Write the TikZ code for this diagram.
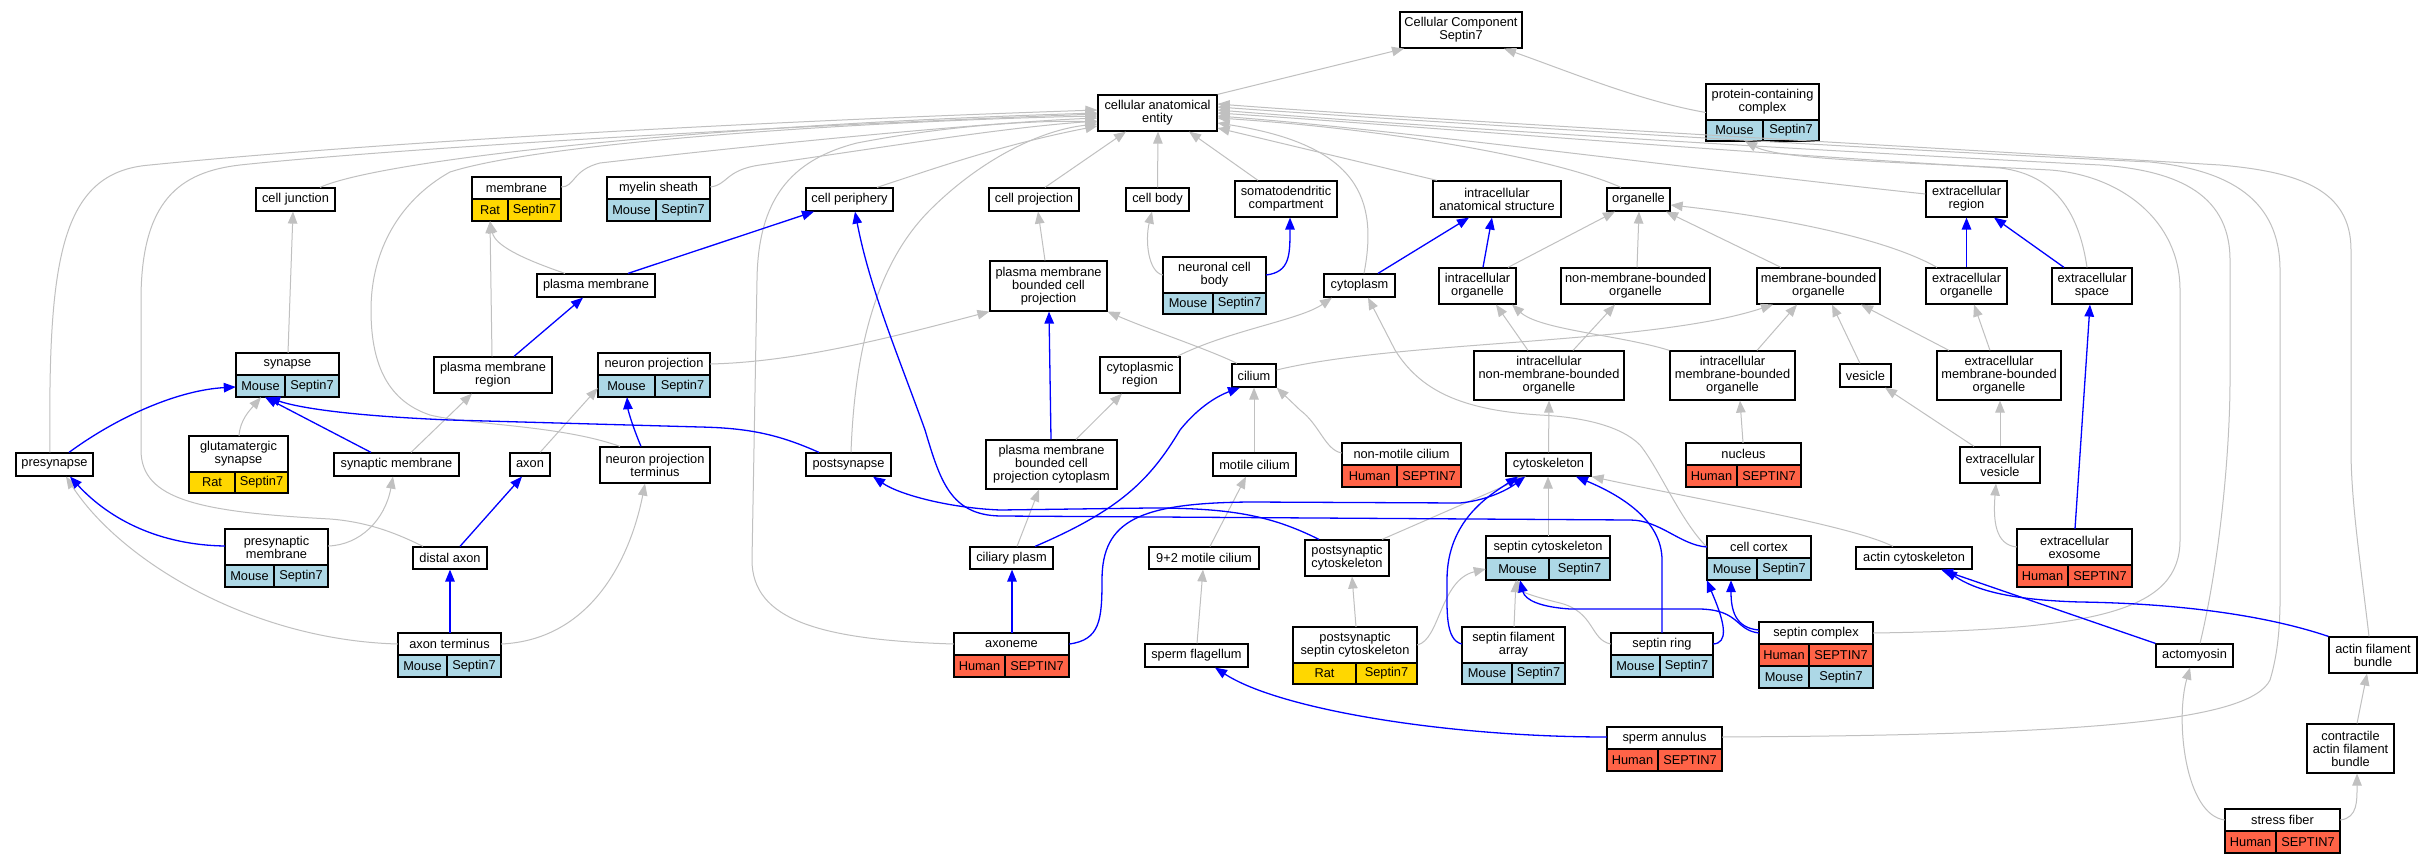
\documentclass[tikz,border=0pt]{standalone}
\usepackage{fontspec}
\setmainfont{Liberation Sans}
\usetikzlibrary{arrows.meta}
\definecolor{colM}{HTML}{ADD8E6}
\definecolor{colH}{HTML}{FF6347}
\definecolor{colR}{HTML}{FFD700}
\definecolor{egray}{RGB}{192,192,192}
\def\spM{Mouse}\def\geM{Septin7}
\def\spH{Human}\def\geH{SEPTIN7}
\def\spR{Rat}\def\geR{Septin7}
\tikzset{
 lblfont/.style={font=\fontsize{12.8}{13}\selectfont},
 bx/.style={draw=black, line width=1.2pt, fill=white, inner sep=0pt, align=center, lblfont},
 cellb/.style={draw=black, line width=1.2pt, inner sep=0pt, align=center, lblfont},
 tabo/.style={inner sep=0pt, draw=none},
 ge/.style={draw=egray, line width=1pt, -{Triangle[length=12pt,width=9.5pt]}},
 be/.style={draw=blue, line width=1.3pt, -{Triangle[length=12pt,width=9.5pt]}},
}
\newcommand\bnode[6]{\node[bx, minimum width={#3-#2}, minimum height={#5-#4}] (#1) at ({(#2+#3)/2},{(#4+#5)/2}) {#6};}
\newcommand\tnode[7]{%
 \node[tabo, minimum width={#3-#2}, minimum height={#6-#4}] (#1) at ({(#2+#3)/2},{(#4+#6)/2}) {};
 \node[bx, minimum width={#3-#2}, minimum height={#5-#4}] (#1-h) at ({(#2+#3)/2},{(#4+#5)/2}) {#7};}
\newcommand\srow[8]{%
 \node[cellb, fill=col#8, minimum width={#4-#3}, minimum height={#7-#6}] (#1-#2a) at ({(#3+#4)/2},{(#6+#7)/2}) {\csname sp#8\endcsname};
 \node[cellb, fill=col#8, minimum width={#5-#4}, minimum height={#7-#6}] (#1-#2b) at ({(#4+#5)/2},{(#6+#7)/2}) {\csname ge#8\endcsname};}
\begin{document}
\begin{tikzpicture}[x=1pt,y=-1pt]
\useasboundingbox[fill=white] (0,0) rectangle (2433,864);
% plain nodes
\bnode{cc}{1400}{1522}{12}{48}{Cellular Component\\Septin7}
\bnode{cae}{1098}{1217}{95}{131}{cellular anatomical\\entity}
\bnode{cj}{256}{335}{188}{211}{cell junction}
\bnode{cp}{806}{893}{188}{211}{cell periphery}
\bnode{cproj}{989}{1079}{188}{211}{cell projection}
\bnode{cb}{1126}{1189}{188}{211}{cell body}
\bnode{sdc}{1235}{1337}{181}{217}{somatodendritic\\compartment}
\bnode{ias}{1433}{1561}{181}{217}{intracellular\\anatomical structure}
\bnode{org}{1607}{1670}{188}{211}{organelle}
\bnode{er}{1926}{2007}{181}{217}{extracellular\\region}
\bnode{pm}{537}{655}{274}{297}{plasma membrane}
\bnode{pmbcp}{990}{1107}{261}{311}{plasma membrane\\bounded cell\\projection}
\bnode{cyto}{1324}{1395}{274}{297}{cytoplasm}
\bnode{io}{1439}{1516}{268}{304}{intracellular\\organelle}
\bnode{nmbo}{1561}{1710}{268}{304}{non-membrane-bounded\\organelle}
\bnode{mbo}{1757}{1880}{268}{304}{membrane-bounded\\organelle}
\bnode{eo}{1926}{2007}{268}{304}{extracellular\\organelle}
\bnode{es}{2052}{2132}{268}{304}{extracellular\\space}
\bnode{pmr}{434}{552}{357}{393}{plasma membrane\\region}
\bnode{cr}{1100}{1180}{357}{393}{cytoplasmic\\region}
\bnode{cil}{1232}{1276}{364}{387}{cilium}
\bnode{inmbo}{1474}{1624}{351}{400}{intracellular\\non-membrane-bounded\\organelle}
\bnode{imbo}{1670}{1795}{351}{400}{intracellular\\membrane-bounded\\organelle}
\bnode{ves}{1840}{1891}{364}{387}{vesicle}
\bnode{embo}{1937}{2061}{351}{400}{extracellular\\membrane-bounded\\organelle}
\bnode{pres}{16}{93}{453}{476}{presynapse}
\bnode{sm}{334}{459}{453}{476}{synaptic membrane}
\bnode{axon}{510}{550}{453}{476}{axon}
\bnode{npt}{600}{710}{447}{483}{neuron projection\\terminus}
\bnode{posts}{806}{891}{453}{476}{postsynapse}
\bnode{pmbcpc}{986}{1117}{440}{489}{plasma membrane\\bounded cell\\projection cytoplasm}
\bnode{mc}{1213}{1296}{453}{476}{motile cilium}
\bnode{csk}{1506}{1591}{453}{476}{cytoskeleton}
\bnode{ev}{1960}{2040}{447}{483}{extracellular\\vesicle}
\bnode{da}{413}{487}{547}{569}{distal axon}
\bnode{cpl}{970}{1053}{547}{569}{ciliary plasm}
\bnode{nmc}{1149}{1259}{547}{569}{9+2 motile cilium}
\bnode{psc}{1305}{1389}{540}{576}{postsynaptic\\cytoskeleton}
\bnode{acs}{1856}{1972}{547}{569}{actin cytoskeleton}
\bnode{sf}{1145}{1248}{644}{667}{sperm flagellum}
\bnode{am}{2156}{2233}{644}{667}{actomyosin}
\bnode{afb}{2329}{2417}{637}{673}{actin filament\\bundle}
\bnode{cafb}{2307}{2394}{724}{773}{contractile\\actin filament\\bundle}
% table nodes
\tnode{pcc}{1706}{1819}{84}{120}{141}{protein-containing\\complex}
\srow{pcc}{1}{1706}{1763}{1819}{120}{141}{M}
\tnode{mem}{472}{561}{177}{199}{221}{membrane}
\srow{mem}{1}{472}{508}{561}{199}{221}{R}
\tnode{mye}{607}{710}{177}{199}{221}{myelin sheath}
\srow{mye}{1}{607}{656}{710}{199}{221}{M}
\tnode{ncb}{1163}{1266}{257}{293}{314}{neuronal cell\\body}
\srow{ncb}{1}{1163}{1213}{1266}{293}{314}{M}
\tnode{syn}{236}{339}{353}{375}{397}{synapse}
\srow{syn}{1}{236}{285}{339}{375}{397}{M}
\tnode{np}{598}{710}{353}{375}{397}{neuron projection}
\srow{np}{1}{598}{655}{710}{375}{397}{M}
\tnode{glu}{189}{288}{436}{472}{493}{glutamatergic\\synapse}
\srow{glu}{1}{189}{235}{288}{472}{493}{R}
\tnode{nmcil}{1342}{1461}{443}{465}{487}{non-motile cilium}
\srow{nmcil}{1}{1342}{1397}{1461}{465}{487}{H}
\tnode{nuc}{1686}{1801}{443}{465}{487}{nucleus}
\srow{nuc}{1}{1686}{1737}{1801}{465}{487}{H}
\tnode{prem}{225}{328}{529}{565}{587}{presynaptic\\membrane}
\srow{prem}{1}{225}{274}{328}{565}{587}{M}
\tnode{exo}{2017}{2132}{529}{565}{587}{extracellular\\exosome}
\srow{exo}{1}{2017}{2068}{2132}{565}{587}{H}
\tnode{scs}{1486}{1610}{536}{558}{580}{septin cytoskeleton}
\srow{scs}{1}{1486}{1549}{1610}{558}{580}{M}
\tnode{cco}{1707}{1811}{536}{558}{580}{cell cortex}
\srow{cco}{1}{1707}{1757}{1811}{558}{580}{M}
\tnode{at}{398}{501}{633}{655}{677}{axon terminus}
\srow{at}{1}{398}{447}{501}{655}{677}{M}
\tnode{axn}{954}{1069}{633}{655}{677}{axoneme}
\srow{axn}{1}{954}{1005}{1069}{655}{677}{H}
\tnode{sr}{1611}{1713}{633}{655}{677}{septin ring}
\srow{sr}{1}{1611}{1660}{1713}{655}{677}{M}
\tnode{pssc}{1293}{1417}{627}{663}{684}{postsynaptic\\septin cytoskeleton}
\srow{pssc}{1}{1293}{1356}{1417}{663}{684}{R}
\tnode{sfa}{1462}{1565}{627}{663}{684}{septin filament\\array}
\srow{sfa}{1}{1462}{1512}{1565}{663}{684}{M}
\tnode{scx}{1759}{1873}{622}{644}{688}{septin complex}
\srow{scx}{1}{1759}{1809}{1873}{644}{666}{H}
\srow{scx}{2}{1759}{1809}{1873}{666}{688}{M}
\tnode{sa}{1607}{1722}{727}{749}{771}{sperm annulus}
\srow{sa}{1}{1607}{1658}{1722}{749}{771}{H}
\tnode{stf}{2225}{2340}{809}{831}{853}{stress fiber}
\srow{stf}{1}{2225}{2276}{2340}{831}{853}{H}
% gray edges
\draw[ge] (cae.north east) -- (cc.south -| 1404,0);
\draw[ge] (pcc.west) .. controls (1640,101) and (1570,72) .. (cc.south -| 1504,0);
\draw[ge] (cj.north -| 320,0) .. controls (380,160) and (700,125) .. (cae.west |- 0,113);
\draw[ge] (pres.north -| 50,0) .. controls (48,260) and (60,172) .. (150,165) .. controls (400,140) and (800,120) .. (cae.west |- 0,110);
\draw[ge] (da.north -| 423,0) .. controls (400,535) and (370,522) .. (330,519) .. controls (200,512) and (141,500) .. (141,450) -- (141,300) .. controls (141,200) and (180,172) .. (240,165) .. controls (400,148) and (800,125) .. (cae.west |- 0,114);
\draw[ge] (npt.north -| 620,0) .. controls (560,425) and (470,425) .. (430,415) .. controls (385,400) and (371,360) .. (371,310) .. controls (371,250) and (400,200) .. (450,172) .. controls (550,140) and (900,120) .. (cae.west |- 0,116);
\draw[ge] (mem.east |- 0,187) .. controls (575,187) and (572,170) .. (600,163) .. controls (800,140) and (1000,122) .. (cae.west |- 0,118);
\draw[ge] (mye.east |- 0,187) .. controls (728,185) and (725,170) .. (760,165) .. controls (900,145) and (1000,128) .. (cae.west |- 0,121);
\draw[ge] (cp.north -| 877,0) .. controls (930,170) and (1000,145) .. (cae.west |- 0,126);
\draw[ge] (posts.north -| 851,0) .. controls (855,340) and (880,260) .. (930,210) .. controls (980,160) and (1040,130) .. (cae.west |- 0,124);
\draw[ge] (axn.west |- 0,644) .. controls (820,640) and (752,620) .. (752,560) -- (757,280) .. controls (758,200) and (790,160) .. (857,143) .. controls (950,125) and (1040,120) .. (cae.west |- 0,122);
\draw[ge] (cproj.north -| 1045,0) -- (cae.south -| 1126,0);
\draw[ge] (cb.north) -- (cae.south -| 1158,0);
\draw[ge] (sdc.north -| 1258,0) -- (cae.south -| 1189,0);
\draw[ge] (cyto.north -| 1364,0) .. controls (1378,200) and (1360,145) .. (cae.east |- 0,123);
\draw[ge] (ias.north -| 1437,0) -- (cae.east |- 0,128);
\draw[ge] (org.north -| 1621,0) .. controls (1560,160) and (1400,130) .. (cae.east |- 0,118);
\draw[ge] (er.west |- 0,194) .. controls (1700,170) and (1400,130) .. (cae.east |- 0,116);
\draw[ge] (es.north -| 2087,0) .. controls (2080,220) and (2060,175) .. (2000,168) .. controls (1700,150) and (1400,125) .. (cae.east |- 0,113);
\draw[ge] (scx.east |- 0,633) .. controls (2100,630) and (2180,610) .. (2180,540) -- (2180,290) .. controls (2180,220) and (2120,175) .. (2050,170) .. controls (1900,162) and (1780,160) .. (pcc.south -| 1745,0);
\draw[ge] (am.north -| 2200,0) .. controls (2220,560) and (2230,450) .. (2230,380) -- (2230,260) .. controls (2230,190) and (2170,170) .. (2100,165) .. controls (1800,150) and (1400,125) .. (cae.east |- 0,110);
\draw[ge] (sa.east |- 0,737) .. controls (2100,735) and (2250,720) .. (2270,680) .. controls (2282,640) and (2280,600) .. (2280,560) -- (2280,270) .. controls (2280,200) and (2230,170) .. (2150,162) .. controls (1800,145) and (1400,120) .. (cae.east |- 0,107);
\draw[ge] (afb.north -| 2369,0) .. controls (2360,560) and (2351,500) .. (2351,450) -- (2351,250) .. controls (2351,190) and (2300,172) .. (2220,165) .. controls (1800,140) and (1400,118) .. (cae.east |- 0,104);
\draw[ge] (pm.north -| 565,0) .. controls (520,258) and (495,245) .. (mem.south -| 490,0);
\draw[ge] (pmr.north -| 492,0) -- (mem.south -| 490,0);
\draw[ge] (syn.north -| 288,0) -- (cj.south -| 293,0);
\draw[ge] (glu.north -| 239,0) .. controls (240,420) and (250,410) .. (syn.south -| 261,0);
\draw[ge] (sm.north -| 411,0) -- (pmr.south -| 472,0);
\draw[ge] (prem.east |- 0,546) .. controls (360,545) and (385,520) .. (sm.south -| 393,0);
\draw[ge] (at.west |- 0,644) .. controls (250,640) and (120,560) .. (pres.south -| 66,0);
\draw[ge] (at.east |- 0,644) .. controls (590,640) and (630,560) .. (npt.south -| 645,0);
\draw[ge] (axon.north -| 540,0) -- (np.west |- 0,388);
\draw[ge] (np.east |- 0,364) .. controls (800,362) and (900,335) .. (pmbcp.south west);
\draw[ge] (pmbcp.north -| 1045,0) -- (cproj.south -| 1038,0);
\draw[ge] (pmbcpc.north -| 1076,0) -- (cr.south -| 1122,0);
\draw[ge] (cpl.north -| 1017,0) -- (pmbcpc.south -| 1039,0);
\draw[ge] (cil.north -| 1237,0) .. controls (1210,350) and (1150,330) .. (pmbcp.south east);
\draw[ge] (cil.east |- 0,370) .. controls (1400,340) and (1650,345) .. (mbo.south -| 1773,0);
\draw[ge] (cr.north -| 1177,0) .. controls (1230,330) and (1300,320) .. (cyto.south -| 1332,0);
\draw[ge] (mc.north -| 1254,0) -- (cil.south -| 1254,0);
\draw[ge] (nmcil.west |- 0,453) .. controls (1325,450) and (1320,425) .. (1300,410) -- (cil.south east);
\draw[ge] (nmc.north -| 1210,0) -- (mc.south -| 1246,0);
\draw[ge] (sf.north -| 1197,0) -- (nmc.south -| 1203,0);
\draw[ge] (ncb.west |- 0,275) .. controls (1148,272) and (1145,240) .. (cb.south -| 1152,0);
\draw[ge] (csk.north) -- (inmbo.south);
\draw[ge] (cco.west |- 0,547) .. controls (1680,520) and (1660,470) .. (1640,445) .. controls (1620,425) and (1580,417) .. (1540,415) .. controls (1460,410) and (1420,390) .. (1395,350) -- (cyto.south -| 1368,0);
\draw[ge] (scs.north -| 1548,0) -- (csk.south -| 1548,0);
\draw[ge] (psc.north -| 1382,0) -- (csk.south -| 1526,0);
\draw[ge] (acs.north -| 1893,0) .. controls (1850,525) and (1700,500) .. (csk.south east);
\draw[ge] (sfa.north -| 1514,0) -- (scs.south -| 1516,0);
\draw[ge] (sr.west |- 0,644) .. controls (1590,640) and (1595,612) .. (1560,603) .. controls (1535,597) and (1522,592) .. (scs.south -| 1517,0);
\draw[ge] (pssc.east |- 0,645) .. controls (1440,640) and (1440,580) .. (scs.west |- 0,569);
\draw[ge] (pssc.north -| 1356,0) -- (psc.south -| 1352,0);
\draw[ge] (io.north -| 1508,0) -- (org.south -| 1615,0);
\draw[ge] (nmbo.north -| 1637,0) -- (org.south -| 1639,0);
\draw[ge] (mbo.north -| 1781,0) -- (org.south -| 1666,0);
\draw[ge] (eo.north -| 1937,0) .. controls (1880,235) and (1760,215) .. (org.east |- 0,205);
\draw[ge] (inmbo.north -| 1528,0) -- (io.south -| 1496,0);
\draw[ge] (inmbo.north -| 1573,0) -- (nmbo.south -| 1615,0);
\draw[ge] (imbo.north west) .. controls (1620,335) and (1540,330) .. (io.south -| 1512,0);
\draw[ge] (imbo.north -| 1757,0) -- (mbo.south -| 1797,0);
\draw[ge] (nuc.north -| 1743,0) -- (imbo.south -| 1740,0);
\draw[ge] (ves.north -| 1860,0) -- (mbo.south -| 1832,0);
\draw[ge] (embo.north -| 1949,0) -- (mbo.south -| 1861,0);
\draw[ge] (embo.north -| 1990,0) -- (eo.south -| 1974,0);
\draw[ge] (ev.north -| 2000,0) -- (embo.south -| 2000,0);
\draw[ge] (ev.north -| 1974,0) -- (ves.south -| 1885,0);
\draw[ge] (exo.west |- 0,547) .. controls (1995,545) and (1993,520) .. (ev.south -| 1996,0);
\draw[ge] (stf.west |- 0,820) .. controls (2185,815) and (2175,720) .. (am.south -| 2190,0);
\draw[ge] (stf.east |- 0,820) .. controls (2358,818) and (2357,800) .. (cafb.south -| 2357,0);
\draw[ge] (cafb.north -| 2357,0) -- (afb.south -| 2367,0);
% blue edges
\draw[be] (pmr.north -| 514,0) -- (pm.south -| 583,0);
\draw[be] (pm.north -| 628,0) -- (cp.south -| 814,0);
\draw[be] (pres.north -| 69,0) .. controls (120,415) and (180,390) .. (syn.west |- 0,387);
\draw[be] (sm.north -| 371,0) -- (syn.south -| 265,0);
\draw[be] (posts.north -| 819,0) .. controls (780,435) and (750,428) .. (700,427) -- (450,420) .. controls (330,415) and (290,405) .. (syn.south -| 268,0);
\draw[be] (prem.west |- 0,546) .. controls (160,545) and (110,520) .. (pres.south -| 70,0);
\draw[be] (da.north -| 460,0) -- (axon.south -| 522,0);
\draw[be] (at.north -| 450,0) -- (da.south -| 450,0);
\draw[be] (npt.north -| 641,0) .. controls (632,425) and (628,410) .. (np.south -| 627,0);
\draw[be] (pmbcpc.north -| 1051,0) -- (pmbcp.south -| 1049,0);
\draw[be] (cpl.north -| 1035,0) .. controls (1120,510) and (1150,480) .. (1180,430) .. controls (1200,405) and (1220,395) .. (cil.south -| 1240,0);
\draw[be] (axn.north -| 1012,0) -- (cpl.south -| 1012,0);
\draw[be] (axn.east |- 0,644) .. controls (1100,640) and (1102,620) .. (1102,580) .. controls (1102,520) and (1140,503) .. (1250,502) -- (1460,503) .. controls (1490,500) and (1510,488) .. (csk.south -| 1525,0);
\draw[be] (psc.north -| 1319,0) .. controls (1270,515) and (1230,508) .. (1150,508) -- (1000,510) .. controls (950,508) and (900,495) .. (posts.south -| 873,0);
\draw[be] (cco.west |- 0,547) .. controls (1680,545) and (1660,520) .. (1630,520) -- (1000,516) .. controls (950,515) and (940,480) .. (925,430) .. controls (900,360) and (870,290) .. (cp.south -| 855,0);
\draw[be] (ncb.east |- 0,275) .. controls (1290,272) and (1290,255) .. (sdc.south -| 1290,0);
\draw[be] (cyto.north -| 1378,0) -- (ias.south -| 1469,0);
\draw[be] (io.north -| 1483,0) -- (ias.south -| 1492,0);
\draw[be] (eo.north) -- (er.south);
\draw[be] (es.north -| 2064,0) -- (er.south -| 1994,0);
\draw[be] (exo.north -| 2075,0) -- (es.south -| 2090,0);
\draw[be] (sa.west |- 0,737) .. controls (1450,737) and (1280,710) .. (sf.south -| 1215,0);
\draw[be] (sfa.west |- 0,644) .. controls (1445,640) and (1447,610) .. (1447,580) .. controls (1447,520) and (1490,495) .. (csk.south -| 1518,0);
\draw[be] (sr.north -| 1662,0) -- (1662,560) .. controls (1662,520) and (1620,495) .. (csk.south -| 1576,0);
\draw[be] (sr.east |- 0,644) .. controls (1728,643) and (1725,625) .. (1715,600) -- (cco.south west);
\draw[be] (scx.west |- 0,630) .. controls (1735,628) and (1731,610) .. (cco.south -| 1731,0);
\draw[be] (scx.west |- 0,633) .. controls (1735,630) and (1740,610) .. (1700,609) -- (1570,609) .. controls (1540,607) and (1525,600) .. (scs.south -| 1520,0);
\draw[be] (am.north west) -- (acs.south -| 1941,0);
\draw[be] (afb.north west) .. controls (2250,610) and (2150,603) .. (2080,602) .. controls (2010,600) and (1975,590) .. (acs.south -| 1945,0);
\end{tikzpicture}
\end{document}
